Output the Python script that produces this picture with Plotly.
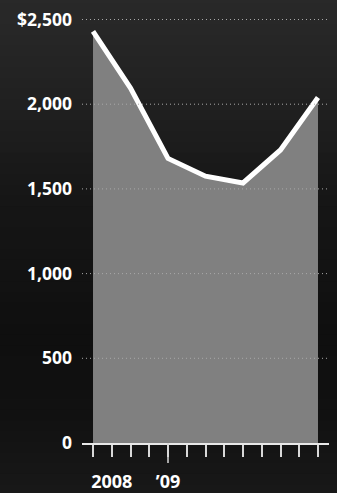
import plotly.graph_objects as go

# Data (bi-monthly points, Sep 2008 .. Sep 2009), x index in months
months = list(range(0, 13, 2))
values = [2430, 2095, 1680, 1575, 1535, 1730, 2040]

y_tick_vals = [0, 500, 1000, 1500, 2000, 2500]
y_tick_text = ["0", "500", "1,000", "1,500", "2,000", "$2,500"]

x_minor_ticks = list(range(0, 13))
x_tick_pos = [1, 4]
x_tick_text = ["2008", "\u201909"]

FONT = "Open Sans"

fig = go.Figure()
fig.add_trace(go.Scatter(
    x=months, y=values, mode="lines",
    line=dict(color="white", width=5),
    fill="tozeroy", fillcolor="#808080",
    hoverinfo="skip", showlegend=False,
))

shapes = []
# dark photographic-looking background: vertical gradient bands
stops = [(0.0, 44), (0.2, 36), (0.45, 22), (0.7, 15), (0.85, 17), (1.0, 24)]
n = 50
for i in range(n):
    t = (i + 0.5) / n
    for (a, ca), (b, cb) in zip(stops[:-1], stops[1:]):
        if a <= t <= b:
            c = int(round(ca + (cb - ca) * (t - a) / (b - a)))
            break
    shapes.append(dict(type="rect", xref="paper", yref="paper", x0=-0.5, x1=1.5,
                       y0=1 - (i + 1) / n * 1.25 + 0.125, y1=1 - i / n * 1.25 + 0.125 + 0.003,
                       fillcolor=f"rgb({c},{c},{c})", line=dict(width=0), layer="below"))
for v in y_tick_vals[1:]:
    shapes.append(dict(type="line", xref="paper", x0=0, x1=1, yref="y", y0=v, y1=v,
                       line=dict(color="#a8a8a8", width=1, dash="1px,3px"), layer="above"))
# long year tick (extends below the axis)
shapes.append(dict(type="line", xref="x", x0=x_tick_pos[1], x1=x_tick_pos[1],
                   yref="paper", ysizemode="pixel", yanchor=0, y0=0, y1=-20,
                   line=dict(color="#d8d8d8", width=1.5), layer="above"))

fig.update_layout(
    width=337, height=493,
    margin=dict(l=82, r=8, t=15, b=50),
    paper_bgcolor="#1d1d1d", plot_bgcolor="rgba(0,0,0,0)",
    shapes=shapes,
    xaxis=dict(
        range=[-0.587, 12.587], showgrid=False, zeroline=False,
        showline=True, linecolor="#e8e8e8", linewidth=1.5,
        tickvals=x_tick_pos, ticktext=x_tick_text,
        ticks="outside", ticklen=12, tickwidth=1.5, tickcolor="#d8d8d8",
        minor=dict(tickvals=x_minor_ticks, ticks="outside", ticklen=12,
                   tickwidth=1.5, tickcolor="#d8d8d8"),
        tickfont=dict(family=FONT, size=18, color="white", weight="bold"),
        ticklabelstandoff=10, automargin=False,
        fixedrange=True,
    ),
    yaxis=dict(
        range=[0, 2526.6], showgrid=False, zeroline=False, showline=False,
        tickvals=y_tick_vals, ticktext=y_tick_text, ticks="",
        tickfont=dict(family=FONT, size=17.5, color="white", weight="bold"),
        ticklabelstandoff=9, automargin=False,
        fixedrange=True,
    ),
)

fig.write_html("out.html", config={"displayModeBar": False})
